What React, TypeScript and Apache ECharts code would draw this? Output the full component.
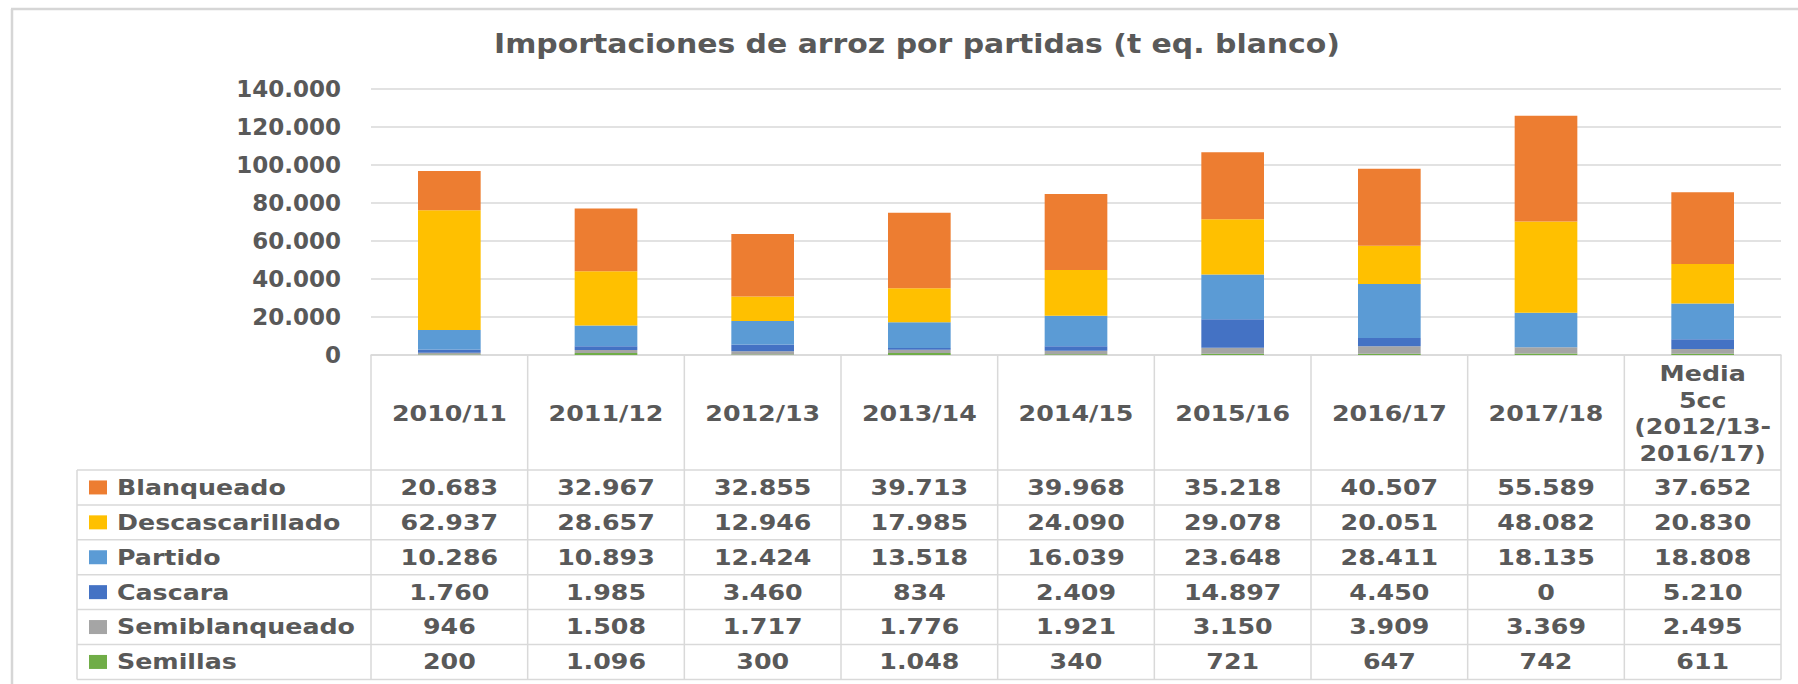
import React, { useEffect, useRef } from 'react';
import * as echarts from 'echarts';

const title = 'Importaciones de arroz por partidas (t eq. blanco)';
const categories = ['2010/11', '2011/12', '2012/13', '2013/14', '2014/15', '2015/16', '2016/17', '2017/18', 'Media\n5cc\n(2012/13-\n2016/17)'];

const blanqueado = [20683, 32967, 32855, 39713, 39968, 35218, 40507, 55589, 37652];
const descascarillado = [62937, 28657, 12946, 17985, 24090, 29078, 20051, 48082, 20830];
const partido = [10286, 10893, 12424, 13518, 16039, 23648, 28411, 18135, 18808];
const cascara = [1760, 1985, 3460, 834, 2409, 14897, 4450, 0, 5210];
const semiblanqueado = [946, 1508, 1717, 1776, 1921, 3150, 3909, 3369, 2495];
const semillas = [200, 1096, 300, 1048, 340, 721, 647, 742, 611];

const yMin = 0;
const yMax = 140000;
const yInterval = 20000;

// table order (top to bottom)
const tableSeries = [
  { name: 'Blanqueado', data: blanqueado, color: '#ED7D31' },
  { name: 'Descascarillado', data: descascarillado, color: '#FFC000' },
  { name: 'Partido', data: partido, color: '#5B9BD5' },
  { name: 'Cascara', data: cascara, color: '#4472C4' },
  { name: 'Semiblanqueado', data: semiblanqueado, color: '#A5A5A5' },
  { name: 'Semillas', data: semillas, color: '#70AD47' },
];

const TEXT = '#595959';
const LINE = '#D9D9D9';
const FONT = '"DejaVu Sans", Verdana, sans-serif';
const STRETCH = 1.15;

function fmt(v: number): string {
  const s = Math.round(v).toString();
  return s.replace(/\B(?=(\d{3})+(?!\d))/g, '.');
}

export default function App() {
  const ref = useRef<HTMLDivElement>(null);

  useEffect(() => {
    const el = ref.current;
    if (!el) return;
    const chart = echarts.init(el, null, { renderer: 'svg' });

    const stackOrder = [...tableSeries].reverse();

    chart.setOption({
      animation: false,
      backgroundColor: '#ffffff',
      grid: { left: 371, right: 17, top: 89, bottom: 329, containLabel: false },
      xAxis: {
        type: 'category',
        data: categories,
        axisLine: { show: true, lineStyle: { color: LINE, width: 1.5 } },
        axisTick: { show: false },
        axisLabel: { show: false },
        splitLine: { show: false },
      },
      yAxis: {
        type: 'value',
        min: yMin,
        max: yMax,
        interval: yInterval,
        axisLine: { show: false },
        axisTick: { show: false },
        splitLine: { show: true, lineStyle: { color: LINE, width: 1.5 } },
        axisLabel: {
          margin: 30,
          color: TEXT,
          fontFamily: FONT,
          fontWeight: 'bold',
          fontSize: 23,
          formatter: (v: number) => fmt(v),
        },
      },
      series: stackOrder.map((s) => ({
        name: s.name,
        type: 'bar',
        stack: 'total',
        data: s.data,
        barCategoryGap: '60%',
        itemStyle: { color: s.color },
      })),
    });

    // Build the data table below the axis, aligned to the category scale
    const c0 = chart.convertToPixel({ xAxisIndex: 0 }, categories[0]) as number;
    const c1 = chart.convertToPixel({ xAxisIndex: 0 }, categories[1]) as number;
    const colW = c1 - c0;
    const tableLeft = c0 - colW / 2;
    const tableRight = tableLeft + colW * categories.length;
    const axisY = chart.convertToPixel({ yAxisIndex: 0 }, 0) as number;
    const headerBottom = 470;
    const rowH = 34.9;
    const legendLeft = 77;
    const tableBottom = headerBottom + rowH * tableSeries.length;

    const txt = (x: number, y: number, text: string, size: number, align: string, extra: any = {}) => ({
      type: 'text',
      x,
      y,
      scaleX: STRETCH,
      style: {
        text,
        fill: TEXT,
        fontFamily: FONT,
        fontWeight: 'bold',
        fontSize: size,
        align,
        verticalAlign: 'middle',
        textAlign: align,
        textVerticalAlign: 'middle',
        ...extra,
      },
    });

    const g: any[] = [];
    // outer frame (left + top)
    g.push({ type: 'line', shape: { x1: 12, y1: 9, x2: 12, y2: 700 }, style: { stroke: '#D6D6D6', lineWidth: 2.5 } });
    g.push({ type: 'line', shape: { x1: 11, y1: 9, x2: 1798, y2: 9 }, style: { stroke: '#D6D6D6', lineWidth: 2.5 } });

    // title
    g.push(txt(917, 44, title, 26, 'center'));

    // vertical column lines
    for (let i = 0; i <= categories.length; i++) {
      const x = tableLeft + i * colW;
      g.push({ type: 'line', shape: { x1: x, y1: axisY, x2: x, y2: tableBottom }, style: { stroke: LINE, lineWidth: 1.5 } });
    }
    g.push({ type: 'line', shape: { x1: legendLeft, y1: headerBottom, x2: legendLeft, y2: tableBottom }, style: { stroke: LINE, lineWidth: 1.5 } });
    // horizontal row lines
    for (let k = 0; k <= tableSeries.length; k++) {
      const y = headerBottom + k * rowH;
      g.push({ type: 'line', shape: { x1: legendLeft, y1: y, x2: tableRight, y2: y }, style: { stroke: LINE, lineWidth: 1.5 } });
    }

    // header labels
    categories.forEach((cat) => {
      const cx = chart.convertToPixel({ xAxisIndex: 0 }, cat) as number;
      g.push(txt(cx, (axisY + headerBottom) / 2 + 1, cat, 22, 'center', { lineHeight: 26.5 }));
    });

    // rows
    tableSeries.forEach((s, k) => {
      const cy = headerBottom + (k + 0.5) * rowH;
      g.push({ type: 'rect', shape: { x: 89, y: cy - 7, width: 18, height: 14 }, style: { fill: s.color } });
      g.push(txt(117, cy, s.name, 22, 'left'));
      s.data.forEach((v, i) => {
        const cx = chart.convertToPixel({ xAxisIndex: 0 }, categories[i]) as number;
        g.push(txt(cx, cy, fmt(v), 22, 'center'));
      });
    });

    chart.setOption({ graphic: g });

    return () => {
      chart.dispose();
    };
  }, []);

  return (
    <div
      ref={ref}
      style={{ position: 'absolute', left: 0, top: 0, width: 1798, height: 684, background: '#ffffff' }}
    />
  );
}
